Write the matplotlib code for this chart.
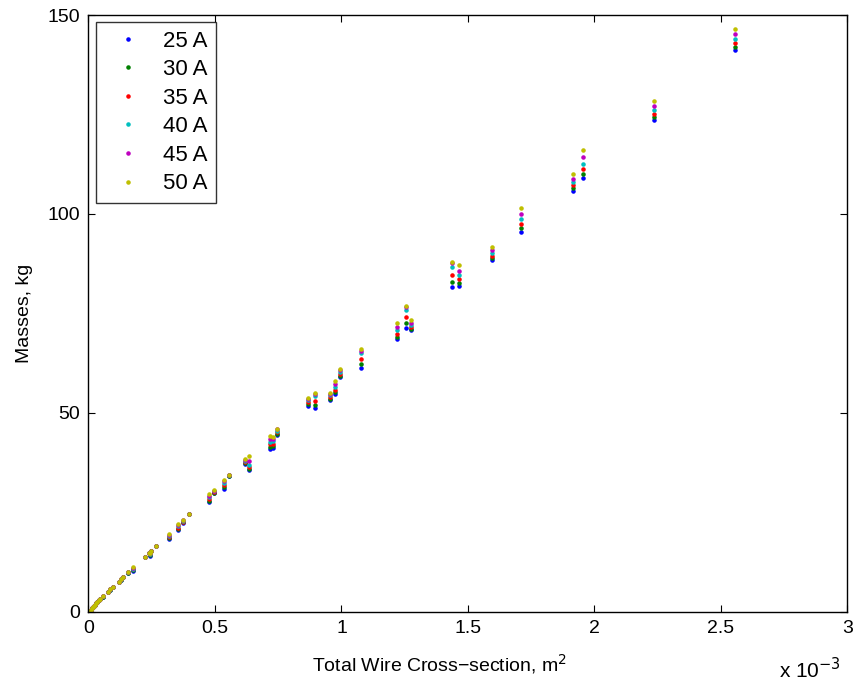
import matplotlib
matplotlib.use("Agg")
import matplotlib.pyplot as plt

plt.rcParams["font.family"] = ["Liberation Sans", "DejaVu Sans"]

# total wire cross-section, units of 1e-3 m^2
cross_section = [0.004, 0.008, 0.012, 0.016, 0.020, 0.025, 0.030, 0.035, 0.040, 0.044,
                 0.057, 0.077, 0.085, 0.097, 0.120, 0.128, 0.136, 0.156, 0.177, 0.222,
                 0.238, 0.242, 0.247, 0.267, 0.317, 0.355, 0.372, 0.396, 0.478, 0.496,
                 0.536, 0.555, 0.620, 0.636, 0.716, 0.730, 0.745, 0.869, 0.895, 0.955,
                 0.976, 0.995, 1.076, 1.218, 1.255, 1.275, 1.436, 1.466, 1.595, 1.710,
                 1.914, 1.955, 2.234, 2.554]

# masses in kg for each current
mass_25 = [0.3, 0.6, 0.9, 1.2, 1.5, 1.8, 2.2, 2.5, 2.9, 3.2,
           3.8, 5.0, 5.6, 6.3, 7.5, 8.1, 8.7, 9.9, 10.4, 13.8,
           14.8, 14.1, 15.3, 16.6, 18.3, 20.6, 22.3, 24.5, 27.6, 29.8,
           30.8, 34.2, 37.1, 35.6, 40.9, 41.1, 44.5, 51.8, 51.2, 53.3,
           54.7, 59.0, 61.3, 68.5, 71.4, 70.8, 81.7, 81.9, 88.4, 95.5,
           105.9, 109.1, 123.6, 141.2]
mass_30 = [0.3, 0.6, 0.9, 1.2, 1.5, 1.8, 2.2, 2.5, 2.9, 3.2,
           3.8, 5.0, 5.6, 6.3, 7.5, 8.1, 8.7, 9.9, 10.6, 13.8,
           14.8, 14.3, 15.3, 16.6, 18.5, 20.9, 22.5, 24.5, 28.0, 30.0,
           31.3, 34.2, 37.4, 36.0, 41.5, 41.7, 44.8, 52.3, 52.0, 53.6,
           55.2, 59.4, 62.4, 69.0, 72.7, 71.1, 83.0, 82.7, 88.9, 96.4,
           106.5, 110.1, 124.3, 142.0]
mass_35 = [0.3, 0.6, 0.9, 1.2, 1.5, 1.8, 2.2, 2.5, 2.9, 3.2,
           3.9, 5.1, 5.7, 6.4, 7.6, 8.2, 8.8, 10.0, 10.8, 13.9,
           14.9, 14.5, 15.4, 16.7, 18.8, 21.2, 22.7, 24.6, 28.4, 30.2,
           31.8, 34.3, 37.7, 36.4, 42.2, 42.3, 45.2, 52.8, 53.1, 54.0,
           55.8, 59.8, 63.6, 69.8, 74.2, 71.6, 84.7, 83.6, 89.4, 97.5,
           107.2, 111.3, 125.1, 142.9]
mass_40 = [0.3, 0.6, 0.9, 1.2, 1.5, 1.8, 2.2, 2.5, 2.9, 3.2,
           3.9, 5.1, 5.7, 6.4, 7.6, 8.2, 8.8, 10.0, 10.9, 13.9,
           14.9, 14.6, 15.4, 16.7, 19.1, 21.5, 22.8, 24.6, 28.8, 30.3,
           32.3, 34.3, 37.9, 36.9, 42.8, 42.9, 45.5, 53.2, 54.3, 54.4,
           56.5, 60.2, 65.0, 70.8, 75.8, 72.0, 86.6, 84.6, 90.1, 98.7,
           108.0, 112.6, 126.1, 144.0]
mass_45 = [0.3, 0.6, 0.9, 1.2, 1.5, 1.8, 2.2, 2.5, 2.9, 3.2,
           3.9, 5.1, 5.7, 6.4, 7.6, 8.2, 8.9, 10.0, 11.0, 13.9,
           14.9, 14.8, 15.4, 16.7, 19.3, 21.8, 23.0, 24.6, 29.2, 30.5,
           32.8, 34.3, 38.2, 38.0, 43.5, 43.4, 45.9, 53.5, 54.7, 54.8,
           57.2, 60.7, 65.6, 71.6, 76.6, 72.6, 87.8, 85.8, 90.9, 100.0,
           108.9, 114.2, 127.1, 145.2]
mass_50 = [0.3, 0.6, 0.9, 1.2, 1.5, 1.8, 2.2, 2.5, 2.9, 3.2,
           3.9, 5.1, 5.7, 6.4, 7.6, 8.2, 8.9, 10.0, 11.2, 13.9,
           14.9, 14.9, 15.4, 16.7, 19.6, 22.1, 23.1, 24.6, 29.6, 30.6,
           33.2, 34.3, 38.4, 39.2, 44.1, 43.9, 46.1, 53.7, 55.1, 55.1,
           58.1, 61.1, 66.1, 72.7, 77.0, 73.4, 88.0, 87.1, 91.7, 101.6,
           110.0, 116.1, 128.3, 146.5]

labels = ["25 A", "30 A", "35 A", "40 A", "45 A", "50 A"]
colors = ["#0000ff", "#008000", "#ff0000", "#00bfbf", "#bf00bf", "#bfbf00"]
series = [mass_25, mass_30, mass_35, mass_40, mass_45, mass_50]

fig = plt.figure(figsize=(8.55, 6.85), dpi=100)
ax = fig.add_axes([0.1035, 0.1066, 0.8877, 0.8715])

xs = [v * 1e-3 for v in cross_section]
for m, lab, c in zip(series, labels, colors):
    ax.plot(xs, m, ".", color=c, markersize=4.5, label=lab)

ax.set_xlim(0, 3e-3)
ax.set_ylim(0, 150)
xt = [0, 0.5, 1, 1.5, 2, 2.5, 3]
ax.set_xticks([t * 1e-3 for t in xt])
ax.set_xticklabels([f"{t:g}" for t in xt])
ax.set_yticks([0, 50, 100, 150])

ax.tick_params(direction="in", top=True, right=True, length=5, width=0.8,
               labelsize=14, pad=6)
for s in ax.spines.values():
    s.set_linewidth(1.0)

ax.set_xlabel("Total Wire Cross\u2212section, m$^2$", fontsize=14)
ax.xaxis.set_label_coords(0.4625, -0.068)
ax.set_ylabel("Masses, kg", fontsize=14)
ax.yaxis.set_label_coords(-0.073, 0.5)
ax.text(0.991, -0.097, "x 10$^{-3}$", transform=ax.transAxes, ha="right", va="center",
        fontsize=15)

leg = ax.legend(loc="upper left", fontsize=16, frameon=True, fancybox=False,
                borderaxespad=0.32, borderpad=0.38, handletextpad=0.45,
                labelspacing=0.34, handlelength=2.2, markerscale=1.0)
leg.get_frame().set_edgecolor("black")
leg.get_frame().set_linewidth(1.0)

fig.savefig("out.png", dpi=100)
